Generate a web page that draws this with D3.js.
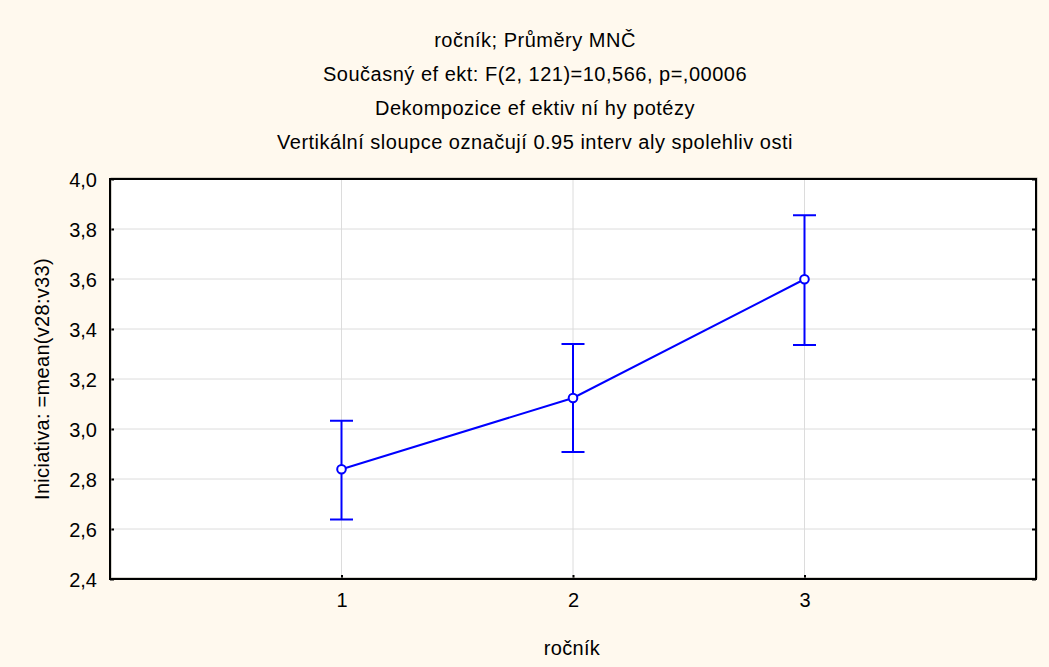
<!DOCTYPE html>
<html><head><meta charset="utf-8">
<script src="https://cdn.jsdelivr.net/npm/d3@7"></script>
<style>body{margin:0;background:#FFF9EE;}svg{display:block;}text{font-family:"Liberation Sans",Arial,sans-serif;fill:#000;}</style>
</head><body>
<script>
const categories = [1, 2, 3];
const means = [2.839, 3.124, 3.599];
const lower = [2.638, 2.908, 3.336];
const upper = [3.033, 3.340, 3.855];
const yTicks = [2.4, 2.6, 2.8, 3.0, 3.2, 3.4, 3.6, 3.8, 4.0];
const xTicks = [1, 2, 3];
const titles = ["ročník; Průměry MNČ", "Současný ef ekt: F(2, 121)=10,566, p=,00006", "Dekompozice ef ektiv ní hy potézy", "Vertikální sloupce označují 0.95 interv aly spolehliv osti"];
const xTitle = "ročník";
const yTitle = "Iniciativa: =mean(v28:v33)";

const W = 1049, H = 667;
const FS = "20px";
const m = {left: 110, right: 1036, top: 179, bottom: 579};
const svg = d3.select("body").append("svg").attr("width", W).attr("height", H);
svg.append("rect").attr("width", W).attr("height", H).attr("fill", "#FFF9EE");

const x = d3.scaleLinear().domain([0, 4]).range([m.left, m.right]);
const y = d3.scaleLinear().domain([2.4, 4.0]).range([m.bottom, m.top]);
const fmt = d => d3.format(".1f")(d).replace(".", ",");

// plot area
svg.append("rect").attr("x", m.left).attr("y", m.top).attr("width", m.right - m.left).attr("height", m.bottom - m.top).attr("fill", "#fff");

// grid
svg.append("g").selectAll("line").data(yTicks.slice(1, -1)).join("line")
  .attr("x1", m.left).attr("x2", m.right).attr("y1", d => y(d)).attr("y2", d => y(d))
  .attr("stroke", "#dcdcdc").attr("stroke-width", 1);
svg.append("g").selectAll("line").data(xTicks).join("line")
  .attr("y1", m.top).attr("y2", m.bottom).attr("x1", d => x(d)).attr("x2", d => x(d))
  .attr("stroke", "#dcdcdc").attr("stroke-width", 1);

// axes
const yAxisL = d3.axisLeft(y).tickValues(yTicks).tickFormat(fmt).tickSizeInner(-4).tickSizeOuter(0).tickPadding(13);
const gy = svg.append("g").attr("transform", `translate(${m.left},0)`).call(yAxisL);
gy.selectAll("text").style("font-size", FS).attr("dy", "0.35em");
gy.select(".domain").remove();
const yAxisR = d3.axisRight(y).tickValues(yTicks).tickFormat("").tickSizeInner(-4).tickSizeOuter(0);
const gyr = svg.append("g").attr("transform", `translate(${m.right},0)`).call(yAxisR);
gyr.select(".domain").remove();
const xAxis = d3.axisBottom(x).tickValues(xTicks).tickFormat(d3.format("d")).tickSizeInner(-4).tickSizeOuter(0).tickPadding(14);
const gx = svg.append("g").attr("transform", `translate(0,${m.bottom})`).call(xAxis);
gx.selectAll("text").style("font-size", FS);
gx.select(".domain").remove();
svg.selectAll(".tick line").attr("stroke", "#000").attr("stroke-width", 2);

// frame (with faint shadow)
svg.append("rect").attr("x", m.left + 1).attr("y", m.top - 1).attr("width", m.right - m.left).attr("height", m.bottom - m.top)
  .attr("fill", "none").attr("stroke", "#b0aca0").attr("stroke-width", 1);
svg.append("rect").attr("x", m.left).attr("y", m.top).attr("width", m.right - m.left).attr("height", m.bottom - m.top)
  .attr("fill", "none").attr("stroke", "#000").attr("stroke-width", 2);

// data
const data = categories.map((c, i) => ({c, m: means[i], lo: lower[i], hi: upper[i]}));
const blue = "#0000FF";
const g = svg.append("g");
g.append("path").datum(data).attr("fill", "none").attr("stroke", blue).attr("stroke-width", 2)
  .attr("d", d3.line().x(d => x(d.c)).y(d => y(d.m)));
const eb = g.selectAll("g.eb").data(data).join("g");
eb.append("line").attr("x1", d => x(d.c)).attr("x2", d => x(d.c)).attr("y1", d => y(d.lo)).attr("y2", d => y(d.hi)).attr("stroke", blue).attr("stroke-width", 2);
eb.append("line").attr("x1", d => x(d.c) - 11.5).attr("x2", d => x(d.c) + 11.5).attr("y1", d => y(d.lo)).attr("y2", d => y(d.lo)).attr("stroke", blue).attr("stroke-width", 2);
eb.append("line").attr("x1", d => x(d.c) - 11.5).attr("x2", d => x(d.c) + 11.5).attr("y1", d => y(d.hi)).attr("y2", d => y(d.hi)).attr("stroke", blue).attr("stroke-width", 2);
eb.append("circle").attr("cx", d => x(d.c)).attr("cy", d => y(d.m)).attr("r", 4.3).attr("fill", "#fff").attr("stroke", blue).attr("stroke-width", 2);

// titles
svg.append("g").selectAll("text").data(titles).join("text")
  .attr("x", 535).attr("y", (d, i) => 46.5 + i * 34.2).attr("text-anchor", "middle")
  .style("font-size", FS).style("letter-spacing", "0.5px").text(d => d);
svg.append("text").attr("x", 572).attr("y", 655).attr("text-anchor", "middle").style("font-size", FS).style("letter-spacing", "0.3px").text(xTitle);
svg.append("text").attr("transform", `translate(49,${(m.top + m.bottom) / 2}) rotate(-90)`).attr("text-anchor", "middle").style("font-size", FS).style("letter-spacing", "0.3px").text(yTitle);
</script>
</body></html>
